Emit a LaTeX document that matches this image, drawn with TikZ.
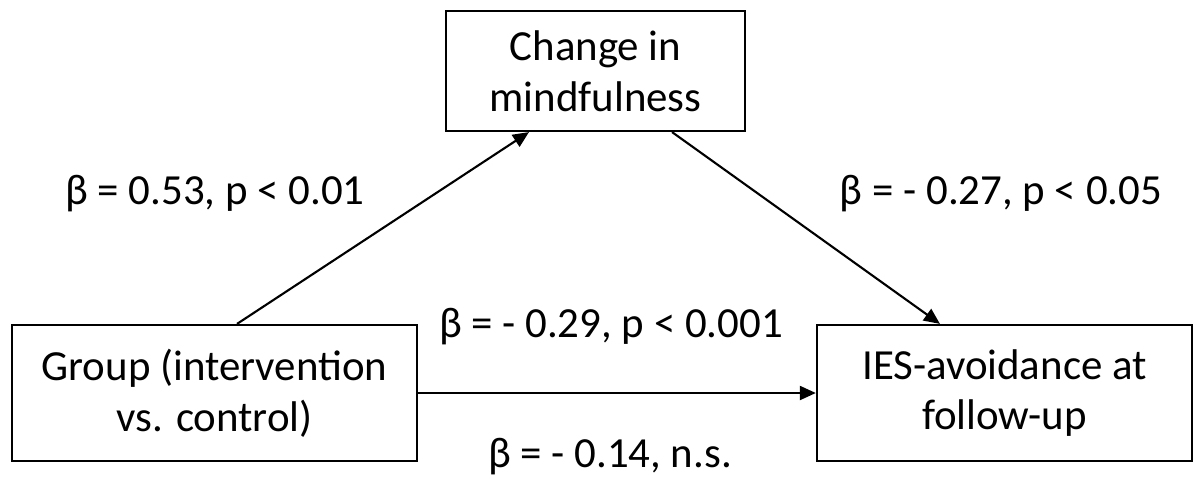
\documentclass[tikz,border=0pt]{standalone}
\usepackage{fontspec}
\setmainfont{Carlito}
\usetikzlibrary{arrows.meta}
\tikzstyle{box} = [draw, line width=0.6pt, align=center, inner sep=0pt, font=\fontsize{12.2}{14.4}\selectfont]
\tikzstyle{arrow} = [line width=0.6pt, -{Triangle[length=0.16cm, width=0.14cm]}]
\tikzstyle{coef} = [inner sep=0pt, font=\fontsize{12.2}{14.4}\selectfont]

\begin{document}
\begin{tikzpicture}[x=0.01cm, y=-0.01cm]
        \useasboundingbox (0,0) rectangle (1198,476);

        \node[box, minimum width=2.99cm, minimum height=1.20cm] (mind) at (595.5,71) {Change in\\mindfulness};
        \node[box, minimum width=4.05cm, minimum height=1.36cm] (group) at (214.5,393) {Group (intervention\\vs. control)};
        \node[box, minimum width=3.75cm, minimum height=1.36cm] (ies) at (1004.5,393) {IES-avoidance at\\follow-up};

        \draw[arrow] ([xshift=0.225cm]group.north) -- ([xshift=-0.665cm]mind.south);
        \draw[arrow] ([xshift=0.765cm]mind.south) -- ([xshift=-0.645cm]ies.north);
        \draw[arrow] (group.east) -- (ies.west);

        \node[coef] (a) at (215,194) {β = 0.53, p < 0.01};
        \node[coef] (b) at (1001,194) {β = - 0.27, p < 0.05};
        \node[coef] (c) at (611,327) {β = - 0.29, p < 0.001};
        \node[coef] (cp) at (610,457) {β = - 0.14, n.s.};
    \end{tikzpicture}
\end{document}
